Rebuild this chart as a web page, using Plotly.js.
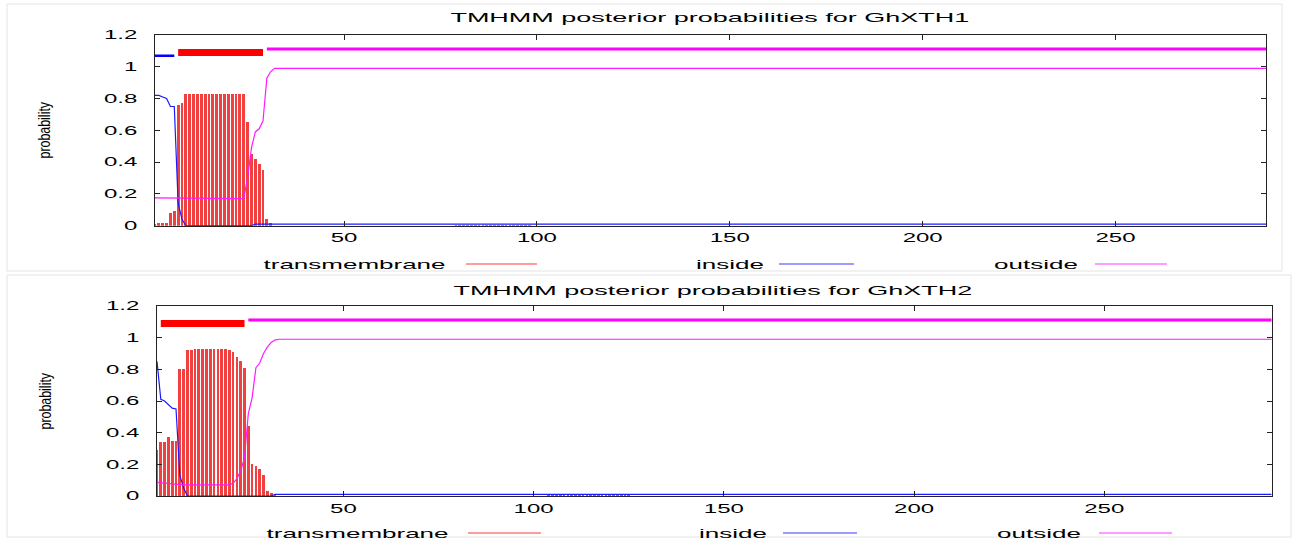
<!DOCTYPE html>
<html><head><meta charset="utf-8">
<script src="https://cdn.plot.ly/plotly-3.0.1.min.js"></script>
<style>html,body{margin:0;padding:0;background:#fff}#chart{width:1305px;height:541px}</style>
</head><body><div id="chart"></div>
<script>
// ---------- DATA ----------
const panelTitles = ['TMHMM posterior probabilities for GhXTH1', 'TMHMM posterior probabilities for GhXTH2'];
const seqRange1 = [1, 289];
const seqRange2 = [1, 294];
const xTickVals = [50, 100, 150, 200, 250];
const legendNames = ['transmembrane', 'inside', 'outside'];

// GhXTH1 transmembrane posterior (impulses)
const tm1X = [1,2,3,4,5,6,7,8,9,10,11,12,13,14,15,16,17,18,19,20,21,22,23,24,25,26,27,28,29,30,31,
  79,80,81,82,83,84,85,86,87,88,89,90,91,92,93,94,95,96,97,98];
const tm1Y = [0.01,0.02,0.02,0.02,0.08,0.09,0.76,0.77,
  0.83,0.83,0.83,0.83,0.83,0.83,0.83,0.83,0.83,0.83,0.83,0.83,0.83,0.83,0.83,0.83,
  0.65,0.45,0.42,0.39,0.35,0.04,0.02,
  0.004,0.004,0.004,0.004,0.004,0.004,0.004,0.004,0.004,0.004,0.004,0.004,0.004,0.004,0.004,0.004,0.004,0.004,0.004,0.004];
// GhXTH1 inside posterior (line)
const in1X = [1, 2, 3, 4, 5, 6, 7, 8, 9, 26, 27, 289];
const in1Y = [0.82, 0.82, 0.81, 0.80, 0.75, 0.75, 0.14, 0.04, 0.0, 0.0, 0.01, 0.01];
// GhXTH1 outside posterior (line)
const out1X = [1, 24, 25, 26, 27, 28, 29, 30, 31, 32, 289];
const out1Y = [0.175, 0.17, 0.30, 0.49, 0.59, 0.61, 0.66, 0.93, 0.97, 0.99, 0.99];
// GhXTH1 predicted topology segments
const topoIn1 = [1, 6];
const topoTm1 = [7, 29];
const topoOut1 = [30, 289];

// GhXTH2 transmembrane posterior
const tm2X = [1,2,3,4,5,6,7,8,9,10,11,12,13,14,15,16,17,18,19,20,21,22,23,24,25,26,27,28,29,30,31,32,
  104,105,106,107,108,109,110,111,112,113,114,115,116,117,118,119,120,121,122,123,124,125];
const tm2Y = [0.29,0.34,0.34,0.37,0.35,0.35,0.80,0.80,
  0.92,0.925,0.93,0.93,0.93,0.93,0.93,0.93,0.93,0.93,0.93,
  0.925,0.91,0.88,0.855,0.81,0.44,0.20,0.19,0.17,0.13,0.03,0.02,0.01,
  0.004,0.004,0.004,0.004,0.004,0.004,0.004,0.004,0.004,0.004,0.004,0.004,0.004,0.004,0.004,0.004,0.004,0.004,0.004,0.004,0.004,0.004];
// GhXTH2 inside posterior
const in2X = [1, 2, 3, 4, 5, 6, 7, 8, 9, 31, 32, 294];
const in2Y = [0.85, 0.61, 0.60, 0.58, 0.555, 0.55, 0.13, 0.05, 0.0, 0.0, 0.01, 0.01];
// GhXTH2 outside posterior
const out2X = [1, 5, 8, 20, 21, 22, 23, 24, 25, 26, 27, 28, 29, 30, 31, 32, 33, 294];
const out2Y = [0.086, 0.075, 0.07, 0.07, 0.08, 0.11, 0.16, 0.24, 0.52, 0.62, 0.81, 0.84, 0.90, 0.94, 0.97, 0.985, 0.99, 0.99];
// GhXTH2 predicted topology segments
const topoTm2 = [2, 24];
const topoOut2 = [25, 294];
// y levels of the topology bars
const topoLevels = {inside: 1.07, tm: 1.09, outside: 1.112};

// ---------- STYLE ----------
const W = 1305, H = 541;
const FONT = 'Liberation Sans, Arial, sans-serif';
const RED = '#f04040', BLUE = '#1a1aff', MAG = '#ff1aff';
const px = v => v / W;
const py = v => 1 - v / H;

function panelTraces(xa, ya, tmX, tmY, inX, inY, outX, outY, topo) {
  const t = [];
  t.push({type: 'bar', x: tmX, y: tmY, xaxis: xa, yaxis: ya, width: 0.72,
    marker: {color: RED, line: {width: 0}}, hoverinfo: 'skip'});
  t.push({type: 'scatter', mode: 'lines', x: inX, y: inY, xaxis: xa, yaxis: ya,
    line: {color: BLUE, width: 1.2}, hoverinfo: 'skip'});
  t.push({type: 'scatter', mode: 'lines', x: outX, y: outY, xaxis: xa, yaxis: ya,
    line: {color: MAG, width: 1.2}, hoverinfo: 'skip'});
  if (topo.inside) t.push({type: 'scatter', mode: 'lines', x: topo.inside, y: [topoLevels.inside, topoLevels.inside],
    xaxis: xa, yaxis: ya, line: {color: '#0000ff', width: 2.5}, hoverinfo: 'skip'});
  t.push({type: 'scatter', mode: 'lines', x: topo.tm, y: [topoLevels.tm, topoLevels.tm],
    xaxis: xa, yaxis: ya, line: {color: '#ff0000', width: 7}, hoverinfo: 'skip'});
  t.push({type: 'scatter', mode: 'lines', x: topo.outside, y: [topoLevels.outside, topoLevels.outside],
    xaxis: xa, yaxis: ya, line: {color: '#ff00ff', width: 3}, hoverinfo: 'skip'});
  return t;
}

const data = [
  ...panelTraces('x', 'y', tm1X, tm1Y, in1X, in1Y, out1X, out1Y, {inside: topoIn1, tm: topoTm1, outside: topoOut1}),
  ...panelTraces('x2', 'y2', tm2X, tm2Y, in2X, in2Y, out2X, out2Y, {tm: topoTm2, outside: topoOut2})
];

function xAxis(domain, range, anchor) {
  return {domain, range, anchor, tickvals: xTickVals, ticks: 'inside', ticklen: 5, tickwidth: 1,
    tickcolor: '#222', showline: true, linecolor: '#222', linewidth: 1.2, mirror: 'allticks',
    showgrid: false, zeroline: false, ticklabelstandoff: 1,
    tickfont: {family: FONT, size: 12, color: '#000'}};
}
function yAxis(domain, anchor) {
  return {domain, range: [0, 1.2], anchor, tick0: 0, dtick: 0.2, ticks: 'inside', ticklen: 5, tickwidth: 1,
    tickcolor: '#222', showline: true, linecolor: '#222', linewidth: 1.2, mirror: 'allticks',
    showgrid: false, zeroline: false, ticklabelstandoff: 14,
    tickfont: {family: FONT, size: 12, color: '#000'}};
}

const annotations = [];
const shapes = [];
function textAnn(text, cx, cy, size, angle) {
  annotations.push({text, xref: 'paper', yref: 'paper', x: px(cx), y: py(cy), xanchor: 'center', yanchor: 'middle',
    showarrow: false, textangle: angle || 0, font: {family: FONT, size, color: '#000'}});
}
function hLine(x0, x1, y, color, w) {
  shapes.push({type: 'line', xref: 'paper', yref: 'paper', x0: px(x0), x1: px(x1), y0: py(y), y1: py(y),
    line: {color, width: w}});
}
function frame(x0, y0, x1, y1) {
  shapes.push({type: 'rect', xref: 'paper', yref: 'paper', x0: px(x0), x1: px(x1), y0: py(y0), y1: py(y1),
    line: {color: '#e4e4e4', width: 1}, layer: 'below'});
}

// panel frames (faint)
frame(7, 4, 1282, 271);
frame(7, 275, 1291, 537);
// titles
textAnn(panelTitles[0], 710, 18, 13.5);
textAnn(panelTitles[1], 713, 290, 13.5);
// y titles
textAnn('probability', 46, 130, 13.5, -90);
textAnn('probability', 46, 401, 13.5, -90);
// legends
const legTop = {y: 264, text: [354.5, 729.5, 1036], lines: [[466, 537], [779, 854], [1095, 1167]]};
const legBot = {y: 533, text: [357, 733, 1039], lines: [[468, 541], [783, 857], [1099, 1172]]};
const legColors = ['#ff3a3a', '#3a3aff', '#ff3aff'];
[legTop, legBot].forEach(l => {
  legendNames.forEach((n, i) => {
    textAnn(n, l.text[i], l.y, 13);
    hLine(l.lines[i][0], l.lines[i][1], l.y, legColors[i], 1.2);
  });
});

const layout = {
  width: W, height: H, margin: {l: 0, r: 0, t: 0, b: 0},
  paper_bgcolor: '#fff', plot_bgcolor: '#fff', showlegend: false, bargap: 0,
  xaxis: xAxis([155 / W, 1266 / W], seqRange1, 'y'),
  yaxis: yAxis([1 - 225.7 / H, 1 - 35 / H], 'x'),
  xaxis2: xAxis([157 / W, 1271.7 / W], seqRange2, 'y2'),
  yaxis2: yAxis([1 - 496 / H, 1 - 306 / H], 'x2'),
  annotations, shapes,
  font: {family: FONT}
};

const STRETCH = 2.0;
function stretch(el, sx, sy) {
  const x = parseFloat(el.getAttribute('x') || '0');
  const y = parseFloat(el.getAttribute('y') || '0');
  const t = el.getAttribute('transform') || '';
  el.setAttribute('transform', (t + ' translate(' + x + ',' + y + ') scale(' + sx + ',' + sy + ') translate(' + (-x) + ',' + (-y) + ')').trim());
}

Plotly.newPlot('chart', data, layout, {staticPlot: true, displayModeBar: false}).then(gd => {
  gd.querySelectorAll('g.xtick text, g.ytick text, g.x2tick text, g.y2tick text').forEach(el => stretch(el, STRETCH, 1));
  gd.querySelectorAll('text.annotation-text').forEach(el => {
    if (el.textContent === 'probability') stretch(el, 0.92, 1.25);
    else stretch(el, STRETCH, 1);
  });
});
</script>
</body></html>
